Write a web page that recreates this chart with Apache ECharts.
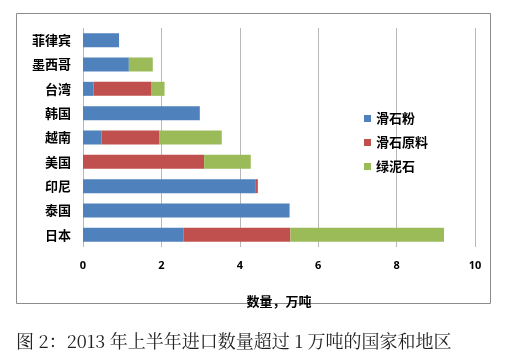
<!DOCTYPE html>
<html><head><meta charset="utf-8">
<script src="https://cdn.jsdelivr.net/npm/echarts@6/dist/echarts.min.js"></script>
<style>html,body{margin:0;padding:0;background:#fff}#c{width:517px;height:360px}</style>
</head><body><div id="c"></div>
<script>
const categories = ['日本','泰国','印尼','美国','越南','韩国','台湾','墨西哥','菲律宾'];
const talcPowder = [2.57, 5.27, 4.41, 0, 0.47, 2.98, 0.27, 1.17, 0.92];
const talcRaw    = [2.72, 0, 0.05, 3.09, 1.47, 0, 1.48, 0, 0];
const chlorite   = [3.92, 0, 0, 1.19, 1.60, 0, 0.33, 0.61, 0];
const seriesNames = ['滑石粉','滑石原料','绿泥石'];
const colors = ['#4F81BD','#C0504D','#9BBB59'];
const font = '"Noto Sans CJK SC", sans-serif';
const chart = echarts.init(document.getElementById('c'));
const mk = (name, data, color) => ({
  name, type:'bar', stack:'t', data, barWidth:14, itemStyle:{color}
});
chart.setOption({
  animation:false,
  grid:{left:83, right:42, top:28, bottom:113},
  legend:{
    orient:'vertical', left:359, top:107, itemWidth:7, itemHeight:7, itemGap:11,
    icon:'rect', data:seriesNames,
    textStyle:{fontFamily:font, fontSize:13, fontWeight:'bold', color:'#000'}
  },
  xAxis:{
    type:'value', min:0, max:10, interval:2,
    axisLine:{show:false}, axisTick:{show:false},
    splitLine:{lineStyle:{color:'#b8b8b8'}},
    axisLabel:{fontFamily:'"Open Sans", sans-serif', fontSize:11, fontWeight:'bold', color:'#000', margin:13},
    name:'数量，万吨', nameLocation:'middle', nameGap:48,
    nameTextStyle:{fontFamily:font, fontSize:13, fontWeight:'bold', color:'#000'}
  },
  yAxis:{
    type:'category', data:categories,
    axisLine:{show:false}, axisTick:{show:false},
    axisLabel:{fontFamily:font, fontSize:13, fontWeight:'bold', color:'#000', margin:12}
  },
  series:[mk(seriesNames[0], talcPowder, colors[0]), mk(seriesNames[1], talcRaw, colors[1]), mk(seriesNames[2], chlorite, colors[2])],
  graphic:[
    {type:'rect', shape:{x:16.5, y:13.5, width:474, height:290}, style:{fill:null, stroke:'#8c8c8c', lineWidth:1}, z:-1},
    {type:'text', left:16, top:332, style:{text:'图 2：2013 年上半年进口数量超过 1 万吨的国家和地区', font:'18px "Noto Serif CJK SC", "Noto Sans CJK SC", serif', fill:'#222'}}
  ]
});
</script></body></html>
